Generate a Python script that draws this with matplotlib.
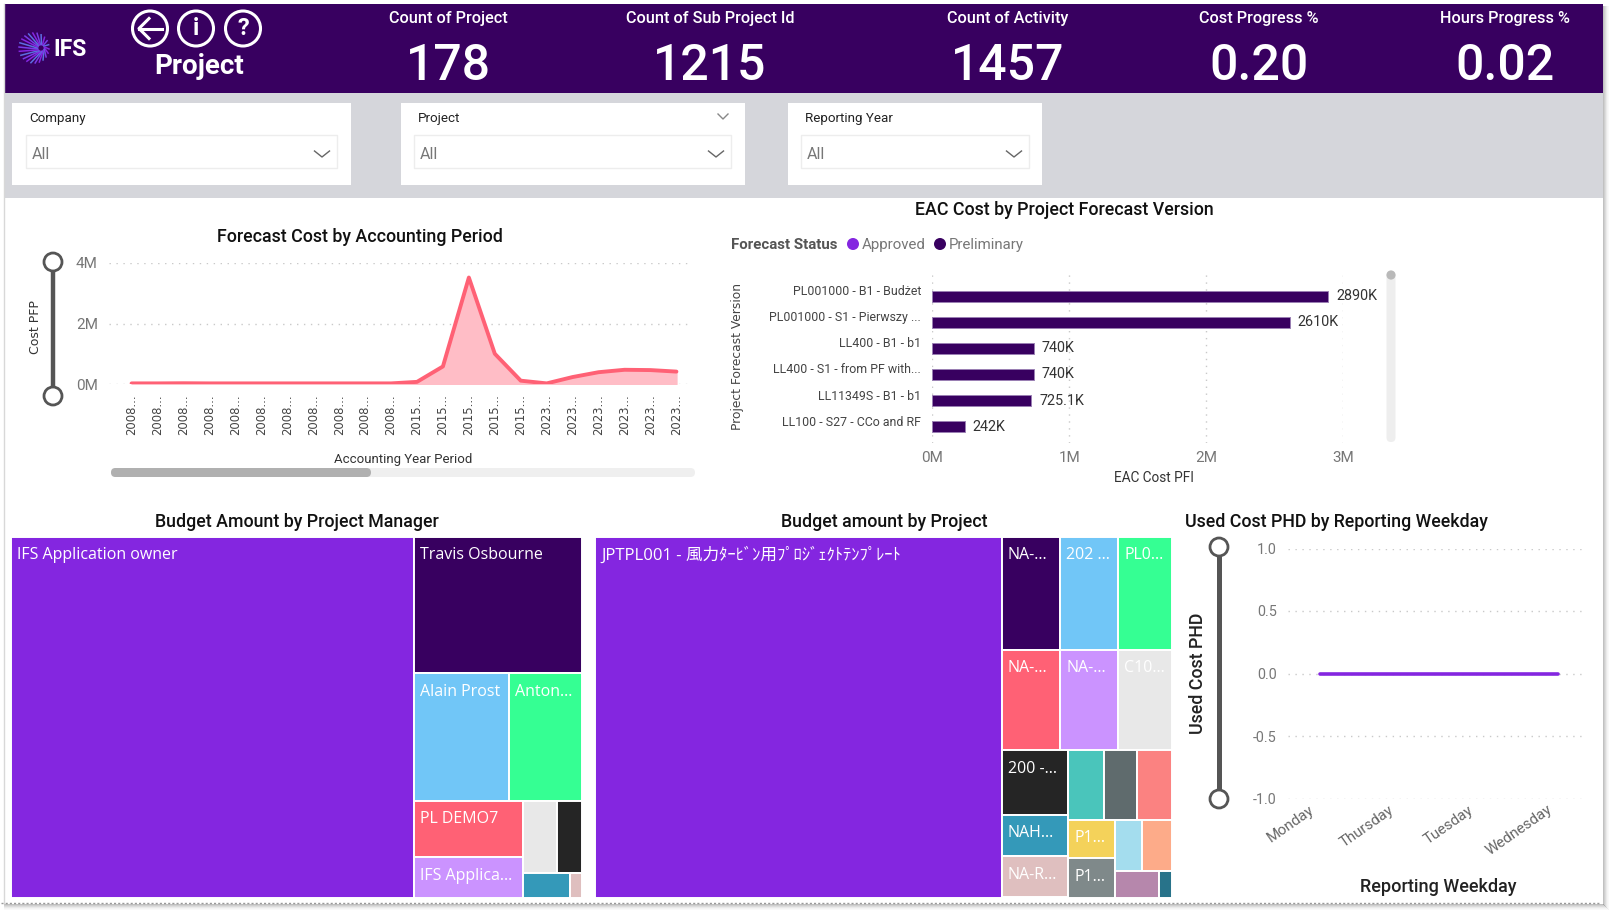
import numpy as np
import matplotlib
matplotlib.use("Agg")
import matplotlib.pyplot as plt
from matplotlib.patches import Rectangle, Circle, FancyBboxPatch
from matplotlib.transforms import ScaledTranslation

# ---- data -------------------------------------------------------------
kpi_titles = ["Count of Project", "Count of Sub Project Id", "Count of Activity",
              "Cost Progress %", "Hours Progress %"]
kpi_values = ["178", "1215", "1457", "0.20", "0.02"]
filter_titles = ["Company", "Project", "Reporting Year"]

period_labels = ["2008..."] * 11 + ["2015..."] * 5 + ["2023..."] * 6
period_cost_m = [0.02, 0.02, 0.025, 0.02, 0.02, 0.02, 0.02, 0.02, 0.02, 0.02, 0.02,
                 0.07, 0.58, 3.52, 1.00, 0.11, 0.02, 0.23, 0.39, 0.47, 0.46, 0.41]
period_ticks = [0, 2, 4]
period_tick_labels = ["0M", "2M", "4M"]

version_names = ["PL001000 - B1 - Budżet", "PL001000 - S1 - Pierwszy ...", "LL400 - B1 - b1",
                 "LL400 - S1 - from PF with...", "LL11349S - B1 - b1", "LL100 - S27 - CCo and RF"]
version_eac_k = [2890, 2610, 740, 740, 725.1, 242]
eac_ticks = [0, 1, 2, 3]
eac_tick_labels = ["0M", "1M", "2M", "3M"]

manager_names = ["IFS Application owner", "Travis Osbourne", "Alain Prost", "Anton...",
                 "PL DEMO7", "IFS Applica...", "", "", "", ""]
manager_budget = [144300, 22848, 12128, 9207, 6104, 4360, 2448, 1800, 1128, 288]
manager_colors = ["#8426E0", "#380060", "#71C6F7", "#35FF93", "#FF6175",
                  "#CB93FF", "#E8E8E8", "#252525", "#3499B9", "#DFBFBF"]
manager_tree = ("h", [0, ("v", [1, ("h", [2, 3]),
                                ("h", [("v", [4, 5]),
                                       ("v", [("h", [6, 7]), ("h", [8, 9])])])])])

project_names = ["JPTPL001 - 風力ﾀｰﾋﾞﾝ用ﾌﾟﾛｼﾞｪｸﾄﾃﾝﾌﾟﾚｰﾄ", "NA-...", "202 ...", "PL0...",
                 "NA-...", "NA-...", "C10...", "200 -...", "NAH...", "NA-R...",
                 "", "", "", "P1...", "P1...", "", "", "", ""]
project_budget = [145754, 6554, 6554, 5989, 5800, 5800, 5300, 4256, 2727, 2727,
                  2450, 2312, 2346, 1786, 1833, 1377, 1479, 1144, 312]
project_colors = ["#8426E0", "#380060", "#71C6F7", "#35FF93", "#FF6175", "#CB93FF", "#E8E8E8",
                  "#252525", "#3499B9", "#DFBFBF", "#4AC5BB", "#5F6B6D", "#FB8281",
                  "#F4D25A", "#7F898A", "#A4DDEE", "#FDAB89", "#B687AC", "#28738A"]
project_tree = ("h", [0, ("v", [("h", [1, 2, 3]), ("h", [4, 5, 6]),
                                ("h", [("v", [7, 8, 9]),
                                       ("v", [("h", [10, 11, 12]),
                                              ("h", [("v", [13, 14]),
                                                     ("v", [("h", [15, 16]), ("h", [17, 18])])])])])])])

weekday_names = ["Monday", "Thursday", "Tuesday", "Wednesday"]
weekday_used_cost = [0.0, 0.0, 0.0, 0.0]
used_ticks = [-1.0, -0.5, 0.0, 0.5, 1.0]

# ---- style ------------------------------------------------------------
W, H = 1613, 915
DARK = "#380060"
PURPLE = "#8426E0"
CORAL = "#FF6175"
GRID = dict(color="#C9C9C9", lw=1.0, ls=(0, (1, 4)))
TITLE = dict(size=12.8, color="#111111", fontweight="medium")
BASE = ["Roboto", "DejaVu Sans"]
plt.rcParams["font.family"] = BASE

fig = plt.figure(figsize=(W / 100, H / 100), dpi=100, facecolor="white")

page = fig.add_axes([0, 0, 1, 1])
page.set_xlim(0, W)
page.set_ylim(H, 0)
page.axis("off")


def box(x0, y0, x1, y1, color, z=1, **kw):
    page.add_patch(Rectangle((x0, y0), x1 - x0, y1 - y0, fc=color, ec="none", zorder=z, **kw))


def label(x, y, s, size, color="#111111", ha="center", va="center", **kw):
    return page.text(x, y, s, fontsize=size, color=color, ha=ha, va=va, zorder=6, **kw)


def panel(x0, y0, x1, y1):
    ax = fig.add_axes([x0 / W, 1 - y1 / H, (x1 - x0) / W, (y1 - y0) / H])
    ax.patch.set_alpha(0)
    for s in ax.spines.values():
        s.set_visible(False)
    ax.tick_params(length=0)
    return ax


# page frame and its soft shadow
for i, a in enumerate([0.45, 0.35, 0.25, 0.15, 0.08, 0.04]):
    box(1603 + i, 6, 1604 + i, 905 + i, "#777777", z=0, alpha=a)
    box(4, 904 + i, 1604 + i, 905 + i, "#777777", z=0, alpha=a)
page.plot([1, 1600], [903, 903], color="#999999", lw=1, ls=(0, (1.5, 1.5)), zorder=2)
page.plot([3.5, 3.5], [4, 903], color="#D8D8D8", lw=1, zorder=2)

# header band and filter strip
box(4, 4, 1603, 93, DARK)
box(4, 93, 1603, 198, "#D5D6DB")

kpi_x = [448, 710, 1008, 1259, 1505]
for x, t, v in zip(kpi_x, kpi_titles, kpi_values):
    label(x, 19, t, 11.7, "white", fontweight="medium")
    label(x, 66.5, v, 36, "white", fontweight="medium")

# logo: a ring of spokes around an off-centre hole, then the wordmark
for k, ang in enumerate(np.linspace(0, 2 * np.pi, 22, endpoint=False)):
    c = ["#8426E0", "#7A3BE8", "#5C6FE0"][k % 3]
    page.plot([41 + 3.5 * np.cos(ang), 34 + 15 * np.cos(ang + 0.35)],
              [48 + 3.5 * np.sin(ang), 48 + 15 * np.sin(ang + 0.35)],
              color=c, lw=1.1, zorder=5)
label(53, 49, "IFS", 16.5, "white", ha="left", fontweight="bold")

# navigation buttons
for x in (150, 196, 243):
    page.add_patch(Circle((x, 28.5), 17.5, fc="none", ec="white", lw=2.2, zorder=5))
page.plot([139, 162], [28.5, 28.5], color="white", lw=2.2, zorder=6)
page.plot([149, 139, 149], [18.5, 28.5, 38.5], color="white", lw=2.2, zorder=6)
label(196, 28.5, "i", 17, "white", fontweight="bold")
label(243, 28.5, "?", 17, "white", fontweight="bold")
label(199, 66, "Project", 20, "white", fontweight="bold")


def chevron(x, y, w=7.5, h=6, color="#666666", lw=1):
    page.plot([x - w, x, x + w], [y - h / 2, y + h / 2, y - h / 2], color=color, lw=lw, zorder=6)


cards = [(12, 351, 26, 337), (401, 745, 414, 731), (788, 1042, 801, 1029)]
for (cx0, cx1, bx0, bx1), title in zip(cards, filter_titles):
    box(cx0, 103, cx1, 185, "white", z=2)
    page.add_patch(Rectangle((bx0, 135), bx1 - bx0, 33, fc="white", ec="#EDEDED", lw=1, zorder=3))
    label(cx0 + 17, 118.5, title, 9.6, "#222222", ha="left")
    label(bx0 + 6, 154.5, "All", 11.5, "#777777", ha="left")
    chevron(bx1 - 15, 154)
chevron(723, 116.5, 5, 5, "#888888")

# forecast cost line
label(359.5, 237, "Forecast Cost by Accounting Period", **TITLE)
ax = panel(109, 263, 692, 384)
xs = np.arange(len(period_cost_m))
ax.fill_between(xs, period_cost_m, color="#FFBDC6", zorder=2)
ax.plot(xs, period_cost_m, color=CORAL, lw=2.8, solid_capstyle="round", solid_joinstyle="round", zorder=3)
ax.set_xlim(-0.87, 21.6)
ax.set_ylim(0, 4)
ax.set_yticks(period_ticks, period_tick_labels, fontsize=11, color="#777777")
ax.set_xticks(xs, period_labels, rotation=90, fontsize=8.4, color="#444444", family="DejaVu Sans")
ax.tick_params(axis="x", pad=7.5)
ax.tick_params(axis="y", pad=8)
ax.grid(axis="y", zorder=0, **GRID)
for s in ax.get_yticklabels():
    s.set_ha("right")
label(403, 459.5, "Accounting Year Period", 9.5, "#333333")
label(35.5, 327, "Cost PFP", 9, "#333333", rotation=90, family="DejaVu Sans")


def slider(x, y0, y1, lw):
    page.plot([x, x], [y0, y1], color="#555555", lw=lw, zorder=4, solid_capstyle="butt")
    for y in (y0, y1):
        page.add_patch(Circle((x, y), 9, fc="white", ec="#555555", lw=2, zorder=5))


def pill(x0, y0, x1, y1, color):
    r = min(x1 - x0, y1 - y0) / 2
    page.add_patch(FancyBboxPatch((x0 + r, y0 + r), x1 - x0 - 2 * r, y1 - y0 - 2 * r,
                                  boxstyle=f"round,pad={r}", fc=color, ec="none", zorder=3))


slider(53, 262, 396, 3.2)
pill(111, 468, 695, 477, "#EFEFEF")
pill(111, 468, 371, 477, "#B0B0B0")

# EAC cost bars
label(1064, 210, "EAC Cost by Project Forecast Version", **TITLE)
label(731, 245, "Forecast Status", 10.8, "#555555", ha="left", fontweight="bold")
page.add_patch(Circle((853, 244), 6, fc=PURPLE, ec="none", zorder=5))
label(862, 245, "Approved", 10.8, "#777777", ha="left")
page.add_patch(Circle((940, 244), 6, fc=DARK, ec="none", zorder=5))
label(949, 245, "Preliminary", 10.8, "#777777", ha="left")

ax = panel(932, 273, 1343.5, 443)
ys = np.arange(len(version_names))
millions = [v / 1000 for v in version_eac_k]
ax.barh(ys, millions, height=0.42, color=DARK, edgecolor="#9A80B4", linewidth=0.7, zorder=3)
ax.set_xlim(0, 3)
ax.set_ylim(5.62, -0.88)
ax.set_xticks(eac_ticks, eac_tick_labels, fontsize=11, color="#777777")
ax.set_yticks(ys, version_names, fontsize=8.9, color="#444444")
ax.tick_params(axis="y", pad=8)
ax.tick_params(axis="x", pad=6)
ax.grid(axis="x", zorder=0, **GRID)
lift = ScaledTranslation(0, 6 / 100, fig.dpi_scale_trans)
for s in ax.get_yticklabels():
    s.set_transform(s.get_transform() + lift)
for y, m, v in zip(ys, millions, version_eac_k):
    ax.annotate(f"{v:g}K", (m, y), xytext=(5.5, 0), textcoords="offset points",
                va="center", fontsize=10.4, color="#333333", clip_on=False)
label(1154, 477.5, "EAC Cost PFI", 9.8, "#333333")
label(737.5, 356.5, "Project Forecast Version", 8.8, "#444444", rotation=90, family="DejaVu Sans")
pill(1386.5, 273, 1395.5, 442, "#EEEEEE")
page.add_patch(Circle((1391, 275), 4.6, fc="#B9B9B9", ec="none", zorder=5))


# treemaps: alternate horizontal and vertical slicing down a nested layout
def weight(node, values):
    if isinstance(node, tuple):
        return sum(weight(c, values) for c in node[1])
    return values[node]


def slice_tiles(node, values, x, y, w, h, out):
    if not isinstance(node, tuple):
        out[node] = (x, y, w, h)
        return
    direction, children = node
    total = weight(node, values)
    for child in children:
        share = weight(child, values) / total
        if direction == "h":
            slice_tiles(child, values, x, y, w * share, h, out)
            x += w * share
        else:
            slice_tiles(child, values, x, y, w, h * share, out)
            y += h * share


def treemap(x0, y0, x1, y1, tree, values, names, colors, size=11.5):
    ax = panel(x0, y0, x1, y1)
    ax.set_xlim(0, x1 - x0)
    ax.set_ylim(y1 - y0, 0)
    ax.set_xticks([])
    ax.set_yticks([])
    tiles = {}
    slice_tiles(tree, values, 0, 0, x1 - x0, y1 - y0, tiles)
    for i, (x, y, w, h) in tiles.items():
        ax.add_patch(Rectangle((x, y), w, h, fc=colors[i], ec="white", lw=1.4))
        if names[i]:
            scale = 1.0 if names[i].isascii() else 1.04
            ax.text(x + 6, y + 18.5, names[i], fontsize=size * scale, color="white", va="center",
                    ha="left", family=["Open Sans", "Noto Sans CJK JP"], clip_on=True)


label(297, 522, "Budget Amount by Project Manager", **TITLE)
treemap(11, 536.5, 582, 897.5, manager_tree, manager_budget, manager_names, manager_colors)
label(884, 522, "Budget amount by Project", **TITLE)
treemap(595, 536.5, 1171.5, 897.5, project_tree, project_budget, project_names, project_colors)

# used cost line
label(1336.5, 522, "Used Cost PHD by Reporting Weekday", **TITLE)
ax = panel(1288, 548.5, 1584, 798.5)
xs = np.arange(len(weekday_names))
ax.plot(xs, weekday_used_cost, color=PURPLE, lw=2.6, solid_capstyle="round", zorder=3)
ax.set_xlim((1288 - 1320) / 79.33, (1584 - 1320) / 79.33)
ax.set_ylim(-1, 1)
ax.set_yticks(used_ticks, [f"{t:.1f}" for t in used_ticks], fontsize=10.4, color="#777777")
ax.set_xticks(xs, weekday_names, fontsize=10.8, color="#666666", rotation=35,
              ha="right", va="top", rotation_mode="anchor")
ax.tick_params(axis="y", pad=8)
ax.tick_params(axis="x", pad=3)
# tick_params rebuilds the label transforms, so the sideways nudge comes after it
shift = ScaledTranslation(-11 / 100, 0, fig.dpi_scale_trans)
for s in ax.get_xticklabels():
    s.set_transform(s.get_transform() + shift)
ax.grid(axis="y", zorder=0, **GRID)
label(1438, 887, "Reporting Weekday", 13, "#222222", fontweight="medium")
label(1198, 673, "Used Cost PHD", 12.8, "#222222", rotation=90, fontweight="medium")
slider(1219, 547, 799, 3.6)

fig.savefig("out.png", dpi=100, facecolor="white")
